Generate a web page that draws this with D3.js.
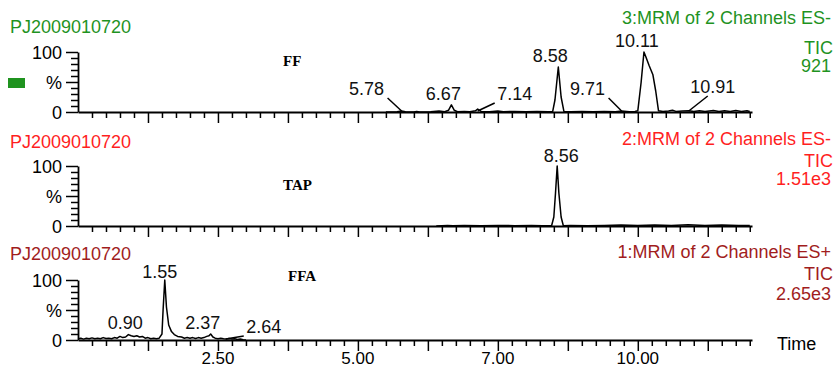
<!DOCTYPE html>
<html><head><meta charset="utf-8">
<script src="https://cdn.jsdelivr.net/npm/d3@7"></script>
<style>html,body{margin:0;padding:0;background:#fff;}svg{display:block;}</style>
</head><body>
<svg id="c" width="838" height="369"></svg>
<script>
// ---------- data ----------
const sampleName = "PJ2009010720";
const compounds = ["FF", "TAP", "FFA"];
const channelTitles = ["3:MRM of 2 Channels ES-", "2:MRM of 2 Channels ES-", "1:MRM of 2 Channels ES+"];
const channelTypes = ["TIC", "TIC", "TIC"];
const channelIntensities = ["921", "1.51e3", "2.65e3"];

const ffTimes = [5.50,5.70,5.78,5.85,6.00,6.05,6.10,6.30,6.45,6.55,6.62,6.67,6.72,6.78,6.90,7.00,7.10,7.14,7.20,7.35,7.50,7.60,7.80,8.00,8.20,8.40,8.48,8.52,8.58,8.63,8.68,8.80,9.00,9.20,9.40,9.60,9.71,9.85,9.95,10.00,10.06,10.11,10.14,10.20,10.27,10.32,10.37,10.45,10.55,10.62,10.68,10.80,10.91,11.00,11.10,11.20,11.35,11.45,11.55,11.65,11.75,11.85,11.95,12.00];
const ffValues = [0,0.5,1.5,0.5,0,1,0,0.5,1.5,0.5,3,12,3,0.5,1,0.5,2,5,1,0.5,1.5,0.5,1,0.5,1,0.5,1,20,75,25,1,0.5,1,0.5,1,0.5,1.5,0.5,1,2,50,100,93,78,62,35,2,1,1.5,3,1,1.5,2,1,2,1,2.5,1,2,1,2.5,1,2,1];

const tapTimes = [6.40,6.60,6.70,6.90,7.20,7.50,7.80,8.10,8.30,8.46,8.50,8.53,8.56,8.59,8.63,8.67,8.80,9.10,9.40,9.70,10.00,10.30,10.60,10.90,11.20,11.50,11.80,12.00];
const tapValues = [0,1,0.5,1,0.5,1,0.5,1,0.5,0.5,15,55,100,55,15,0.5,1,0.5,1,1.5,1,1.5,1,2,1,1.5,1,1];

const ffaTimes = [0.00,0.05,0.10,0.15,0.20,0.25,0.30,0.35,0.40,0.45,0.50,0.55,0.60,0.65,0.70,0.75,0.80,0.85,0.90,0.95,1.00,1.05,1.10,1.15,1.20,1.25,1.30,1.35,1.40,1.45,1.50,1.52,1.55,1.58,1.62,1.67,1.72,1.78,1.85,1.90,1.95,2.00,2.05,2.10,2.15,2.20,2.25,2.30,2.34,2.37,2.41,2.45,2.50,2.55,2.60,2.65,2.70,2.75,2.80,2.85,2.90,2.95,3.00];
const ffaValues = [2,3,1.5,3,2,3.5,2,3,2,4,2.5,3,2,4,3,6,4,5,9,7,6,7,5,6,3,4,2,3,2,3,10,50,100,55,25,14,9,6,5,3,4,3,4,2.5,4,3,4,6,7,10,5,3,2,3,2,1.5,2.5,1.5,2,1,1.5,0.5,0];

const ffPeakTimes = [5.78, 6.67, 7.14, 8.58, 9.71, 10.11, 10.91];
const ffPeakLabels = ["5.78", "6.67", "7.14", "8.58", "9.71", "10.11", "10.91"];
const tapPeakTimes = [8.56];
const tapPeakLabels = ["8.56"];
const ffaPeakTimes = [0.90, 1.55, 2.37, 2.64];
const ffaPeakLabels = ["0.90", "1.55", "2.37", "2.64"];

const yTickValues = [0, 10, 20, 30, 40, 50, 60, 70, 80, 90, 100];
const timeTickValues = [2.5, 5.0, 7.5, 10.0];
const timeTickLabels = ["2.50", "5.00", "7.00", "10.00"];
const xAxisTitle = "Time";

// ---------- layout ----------
const FONT = "'Liberation Sans', Arial, sans-serif";
const colors = ["#1f931f", "#ff1f1f", "#a11d1d"];
const panels = [
  {times: ffTimes, values: ffValues, pt: ffPeakTimes, pl: ffPeakLabels, axisY: 112,
   lay: [{dx:-35, by:-17, lead:1}, {dx:-8, by:-12}, {dx:37, by:-12, lead:1}, {dx:-8, by:-50},
         {dx:-34, by:-17, lead:1}, {dx:-7, by:-65}, {dx:24, by:-19, lead:1}],
   titleY: 24, ticY: 54, intY: 72, leftY: 33, compY: 66, compX: 283},
  {times: tapTimes, values: tapValues, pt: tapPeakTimes, pl: tapPeakLabels, axisY: 226,
   lay: [{dx:4, by:-64}],
   titleY: 145, ticY: 167, intY: 185, leftY: 148, compY: 190, compX: 283},
  {times: ffaTimes, values: ffaValues, pt: ffaPeakTimes, pl: ffaPeakLabels, axisY: 340,
   lay: [{dx:-3, by:-11}, {dx:-5, by:-62}, {dx:-8, by:-11}, {dx:38, by:-7, lead:1}],
   titleY: 258, ticY: 280, intY: 300, leftY: 260, compY: 281, compX: 288}
];
const panelH = 60;

const svg = d3.select("#c");
const x = d3.scaleLinear().domain([0, 12.04]).range([78, 752]);

panels.forEach((p, i) => {
  const y = d3.scaleLinear().domain([0, 100]).range([p.axisY, p.axisY - panelH]);
  const g = svg.append("g");

  g.append("text").attr("x", 10).attr("y", p.leftY).attr("fill", colors[i])
    .style("font", `18px ${FONT}`).text(sampleName);
  [[channelTitles[i], p.titleY, 831], [channelTypes[i], p.ticY, 833], [channelIntensities[i], p.intY, 831]].forEach(([t, yy, xx]) => {
    g.append("text").attr("x", xx).attr("y", yy).attr("text-anchor", "end").attr("fill", colors[i])
      .style("font", `18px ${FONT}`).text(t);
  });
  g.append("text").attr("x", p.compX).attr("y", p.compY)
    .style("font", `bold 15px 'Liberation Serif', 'Times New Roman', serif`).text(compounds[i]);

  // y axis
  const ya = g.append("g").attr("transform", `translate(${x(0)},0)`)
    .call(d3.axisLeft(y).tickValues(yTickValues).tickSize(7).tickSizeOuter(0)
      .tickFormat(d => d === 100 ? "100" : d === 50 ? "%" : d === 0 ? "0" : ""));
  ya.select(".domain").attr("stroke", "#000").attr("stroke-width", 1.8);
  ya.selectAll(".tick line").attr("stroke", "#000").attr("stroke-width", 1.5)
    .attr("x2", d => (d % 50 === 0 ? -12 : -7));
  ya.selectAll(".tick text").attr("x", -16).attr("dy", "0.36em")
    .style("font", `18px ${FONT}`).attr("fill", "#000");

  // x axis
  const xa = g.append("g").attr("transform", `translate(0,${p.axisY})`)
    .call(d3.axisBottom(x).tickValues(d3.range(1, 49).map(k => k * 0.25)).tickSize(6).tickSizeOuter(0).tickFormat(""));
  xa.select(".domain").attr("stroke", "#000").attr("stroke-width", 1.8);
  xa.selectAll(".tick line").attr("stroke", "#000").attr("stroke-width", 1.5)
    .attr("y2", (d, k) => ((k + 1) % 5 === 0 ? 11 : 6));

  // trace
  const pts = p.times.map((t, k) => [t, p.values[k]]);
  g.append("path").datum(pts).attr("fill", "none").attr("stroke", "#000").attr("stroke-width", 1.5)
    .attr("stroke-linejoin", "round")
    .attr("d", d3.line().x(d => x(d[0])).y(d => y(d[1])));

  // peak labels
  p.pt.forEach((t, k) => {
    const L = p.lay[k];
    const px = x(t);
    const tx = px + L.dx, ty = p.axisY + L.by;
    g.append("text").attr("x", tx).attr("y", ty).attr("text-anchor", "middle")
      .style("font", `18px ${FONT}`).attr("fill", "#111").text(p.pl[k]);
    if (L.lead) {
      const half = 18 * 0.556 * p.pl[k].length / 2;
      const sx = L.dx < 0 ? tx + half + 1 : (L.dx > 30 ? tx - half : tx - 5);
      g.append("line").attr("x1", sx).attr("y1", ty + 3)
        .attr("x2", px).attr("y2", p.axisY - 1)
        .attr("stroke", "#000").attr("stroke-width", 1.5);
    }
  });
});

svg.append("rect").attr("x", 8).attr("y", 78).attr("width", 17).attr("height", 10).attr("fill", colors[0]);

timeTickValues.forEach((t, k) => {
  svg.append("text").attr("x", x(t)).attr("y", 364).attr("text-anchor", "middle")
    .style("font", `17px ${FONT}`).attr("fill", "#000").text(timeTickLabels[k]);
});
svg.append("text").attr("x", 777).attr("y", 350)
  .style("font", `18px ${FONT}`).attr("fill", "#000").text(xAxisTitle);
</script>
</body></html>
